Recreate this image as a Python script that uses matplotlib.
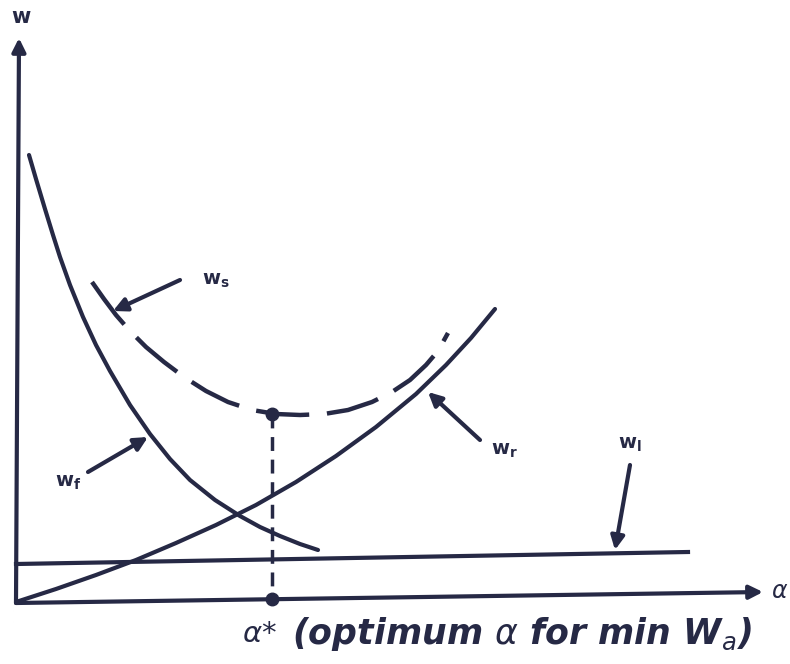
import matplotlib
matplotlib.use("Agg")
import matplotlib.pyplot as plt

# sketch of weight terms vs alpha (units: 1 = 1 px from the axis origin)
INK = '#262945'

# W_f (falling curve)
wf_a = [13, 20, 29, 37, 44, 54, 67, 80, 94, 114, 134, 154, 174, 199, 224, 244, 264, 284, 302]
wf_w = [448, 424, 394, 368, 346, 318, 286, 258, 232, 198, 169, 144, 123, 103, 87, 76, 67, 59, 53]

# W_r (rising curve)
wr_a = [0, 40, 80, 120, 160, 200, 240, 280, 320, 360, 400, 430, 455, 479]
wr_w = [1, 14, 28, 43, 60, 78, 98, 121, 147, 176, 209, 238, 265, 294]

# W_s (dashed sum curve)
ws_a = [76, 88, 100, 114, 130, 148, 168, 190, 212, 236, 260, 284, 308, 332, 356, 376, 394, 410, 422, 432]
ws_w = [321, 304, 288, 272, 256, 241, 226, 212, 201, 193, 189, 188, 189, 193, 201, 211, 223, 238, 252, 270]

# W_l (flat line)
wl_a = [0, 672]
wl_w = [39, 51]

# optimum
a_opt = 256
w_opt = 189

# axes end points (scan is slightly skewed)
xaxis_a = [0, 747]
xaxis_w = [0, 11]
yaxis_a = [0, 3]
yaxis_w = [0, 565]

fig = plt.figure(figsize=(7.9, 6.64), dpi=100)
ax = fig.add_axes([0, 0, 1, 1])
ax.set_xlim(-16, 774)
ax.set_ylim(-61, 603)
ax.axis('off')

arrow_kw = dict(arrowstyle='-|>', color=INK, lw=3, mutation_scale=20,
                shrinkA=0, shrinkB=0)

# axes
ax.annotate('', xy=(xaxis_a[1], xaxis_w[1]), xytext=(xaxis_a[0], xaxis_w[0]),
            arrowprops=arrow_kw)
ax.annotate('', xy=(yaxis_a[1], yaxis_w[1]), xytext=(yaxis_a[0], yaxis_w[0]),
            arrowprops=arrow_kw)
ax.text(5, 586, 'w', fontsize=15, fontweight='bold', color=INK,
        ha='center', va='center')
ax.text(755, 12, r'$\alpha$', fontsize=17, color=INK, ha='left', va='center')

# curves
ax.plot(wf_a, wf_w, color=INK, lw=3, solid_capstyle='round', solid_joinstyle='round')
ax.plot(wr_a, wr_w, color=INK, lw=3, solid_capstyle='round', solid_joinstyle='round')
ax.plot(ws_a, ws_w, color=INK, lw=3.2, linestyle=(0, (12, 4)))
ax.plot(wl_a, wl_w, color=INK, lw=3)

# optimum marker and drop line
ax.plot([a_opt, a_opt], [w_opt, 4], color=INK, lw=2.5, linestyle=(0, (4, 2.5)))
ax.plot([a_opt, a_opt], [w_opt, 4], 'o', color=INK, ms=9)

# labels with arrows
lab_kw = dict(fontsize=14, fontweight='bold', color=INK, ha='center', va='center')
ax.annotate('', xy=(97, 292), xytext=(164, 323), arrowprops=arrow_kw)
ax.text(200, 322, r'w$_\mathbf{s}$', **lab_kw)
ax.annotate('', xy=(132, 166), xytext=(72, 131), arrowprops=arrow_kw)
ax.text(52, 121, r'w$_\mathbf{f}$', **lab_kw)
ax.annotate('', xy=(412, 211), xytext=(464, 163), arrowprops=arrow_kw)
ax.text(488, 153, r'w$_\mathbf{r}$', **lab_kw)
ax.annotate('', xy=(599, 53), xytext=(614, 138), arrowprops=arrow_kw)
ax.text(614, 158, r'w$_\mathbf{l}$', **lab_kw)

# bottom note
ax.text(a_opt - 30, -31, r'$\alpha$*', fontsize=21, color=INK, ha='left', va='center')
ax.text(276, -31, r'(optimum $\alpha$ for min W$_a$)', fontsize=25, color=INK,
        ha='left', va='center', fontstyle='italic', fontweight='bold')

fig.savefig('out.png', dpi=100)
